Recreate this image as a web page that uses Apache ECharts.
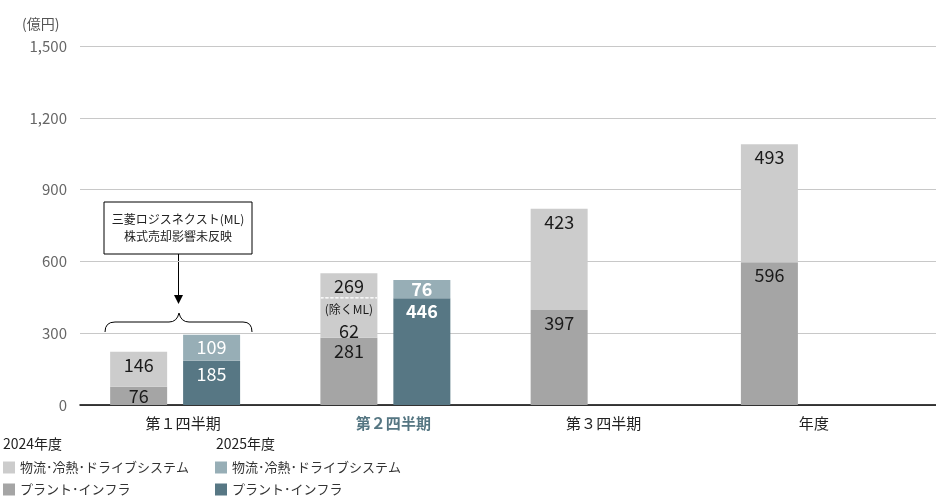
<!DOCTYPE html>
<html>
<head>
<meta charset="utf-8">
<script src="https://cdn.jsdelivr.net/npm/echarts@6/dist/echarts.min.js"></script>
<style>
  html, body { margin: 0; padding: 0; background: #fff; }
  #main { width: 936px; height: 500px; }
</style>
</head>
<body>
<div id="main"></div>
<script>
var categories = ['第１四半期', '第２四半期', '第３四半期', '年度'];
var plant2024 = [76, 281, 397, 596];
var logi2024 = [146, 269, 423, 493];
var plant2025 = [185, 446, null, null];
var logi2025 = [109, 76, null, null];
var yTicks = [0, 300, 600, 900, 1200, 1500];

var FONT = '"Noto Sans CJK JP", "Noto Sans", sans-serif';
var LOGI = '物流･冷熱･ドライブシステム';
var PLANT = 'プラント･インフラ';

var myChart = echarts.init(document.getElementById('main'));

// 小さい区画はラベルを中央、それ以外は上寄せ
function items(values, color, boldIdx) {
    return values.map(function (v, i) {
        if (v == null) return '-';
        return {
            value: v,
            label: {
                position: v < 90 ? 'inside' : 'insideTop',
                distance: 4,
                color: color,
                fontWeight: i === boldIdx ? 'bold' : 'normal'
            }
        };
    });
}

var logi2024Items = items(logi2024, '#1a1a1a', -1);
// 第2四半期の(除くML)注記
logi2024Items[1].label = {
    position: 'insideTop',
    distance: 2,
    formatter: '{v|' + logi2024[1] + '}\n{line| }\n{s|(除くML)}\n{v|62}',
    rich: {
        v: { fontSize: 18, lineHeight: 22, color: '#1a1a1a', fontFamily: FONT },
        line: { width: 56, height: 0, lineHeight: 1, borderColor: '#ffffff', borderWidth: 1, borderType: [3, 2] },
        s: { fontSize: 12, lineHeight: 22, color: '#1a1a1a', fontFamily: FONT }
    }
};

function seg(x1, y1, x2, y2) {
    return { type: 'line', shape: { x1: x1, y1: y1, x2: x2, y2: y2 }, style: { stroke: '#000', lineWidth: 1 } };
}
function curve(x1, y1, cx, cy, x2, y2) {
    return {
        type: 'bezierCurve',
        shape: { x1: x1, y1: y1, cpx1: cx, cpy1: cy, x2: x2, y2: y2 },
        style: { stroke: '#000', lineWidth: 1, fill: null }
    };
}

var titleStyle = { fontSize: 14, fontWeight: 'normal', color: '#222', fontFamily: FONT };

var option = {
    textStyle: { fontFamily: FONT },
    animation: false,
    title: [
        { text: '(億円)', left: 22, top: 17, padding: 0, textStyle: { fontSize: 14, fontWeight: 'normal', color: '#555', fontFamily: FONT } },
        { text: '2024年度', left: 3, top: 437, padding: 0, textStyle: titleStyle },
        { text: '2025年度', left: 216, top: 437, padding: 0, textStyle: titleStyle }
    ],
    legend: [
        {
            orient: 'vertical', left: 3, top: 461, padding: 0,
            itemWidth: 12, itemHeight: 12, itemGap: 9, icon: 'rect',
            data: ['2024|' + LOGI, '2024|' + PLANT],
            formatter: function (n) { return n.split('|')[1]; },
            textStyle: { fontSize: 13, color: '#333', fontFamily: FONT }
        },
        {
            orient: 'vertical', left: 215, top: 461, padding: 0,
            itemWidth: 12, itemHeight: 12, itemGap: 9, icon: 'rect',
            data: ['2025|' + LOGI, '2025|' + PLANT],
            formatter: function (n) { return n.split('|')[1]; },
            textStyle: { fontSize: 13, color: '#333', fontFamily: FONT }
        }
    ],
    // grid 0: 目盛線と軸線 / grid 1: 棒
    grid: [
        { left: 80, right: 0, top: 46, bottom: 95 },
        { left: 70, right: 25, top: 46, bottom: 95 }
    ],
    xAxis: [
        {
            gridIndex: 0, type: 'category', data: categories,
            axisTick: { show: false }, axisLabel: { show: false },
            axisLine: { lineStyle: { color: '#000', width: 1.5 } }
        },
        {
            gridIndex: 1,
            type: 'category',
            data: categories.map(function (c, i) {
                return i === 1 ? { value: c, textStyle: { color: '#557682', fontWeight: 'bold' } } : c;
            }),
            axisTick: { show: false },
            axisLine: { show: false },
            axisLabel: { fontSize: 15, color: '#222', margin: 11, padding: [0, 0, 0, 16] }
        }
    ],
    yAxis: [
        {
            gridIndex: 0,
            type: 'value',
            min: yTicks[0],
            max: yTicks[yTicks.length - 1],
            interval: 300,
            axisLine: { show: false },
            axisTick: { show: false },
            splitLine: { lineStyle: { color: '#c8c8c8' } },
            axisLabel: {
                fontSize: 15, color: '#666', margin: 13,
                formatter: function (v) { return v.toLocaleString('en-US'); }
            }
        },
        {
            gridIndex: 1,
            type: 'value',
            min: yTicks[0],
            max: yTicks[yTicks.length - 1],
            interval: 300,
            show: false
        }
    ],
    series: [
        {
            name: '2024|' + PLANT, type: 'bar', stack: 'y2024',
            xAxisIndex: 1, yAxisIndex: 1,
            barWidth: 57, barGap: '28%',
            itemStyle: { color: '#a5a5a5' },
            label: { show: true, fontSize: 18 },
            data: items(plant2024, '#1a1a1a', -1)
        },
        {
            name: '2024|' + LOGI, type: 'bar', stack: 'y2024',
            xAxisIndex: 1, yAxisIndex: 1,
            barWidth: 57, barGap: '28%',
            itemStyle: { color: '#cccccc' },
            label: { show: true, fontSize: 18 },
            data: logi2024Items
        },
        {
            name: '2025|' + PLANT, type: 'bar', stack: 'y2025',
            xAxisIndex: 1, yAxisIndex: 1,
            barWidth: 57, barGap: '28%',
            itemStyle: { color: '#577784' },
            label: { show: true, fontSize: 18 },
            data: items(plant2025, '#ffffff', 1)
        },
        {
            name: '2025|' + LOGI, type: 'bar', stack: 'y2025',
            xAxisIndex: 1, yAxisIndex: 1,
            barWidth: 57, barGap: '28%',
            itemStyle: { color: '#97aeb6' },
            label: { show: true, fontSize: 18 },
            data: items(logi2025, '#ffffff', 1)
        }
    ],
    graphic: [
        // 注記ボックス
        {
            type: 'rect', shape: { x: 104, y: 202, width: 148, height: 52 },
            style: { fill: '#fff', stroke: '#000', lineWidth: 1 }
        },
        {
            type: 'text', x: 178, y: 228,
            style: {
                text: '三菱ロジスネクスト(ML)\n株式売却影響未反映',
                align: 'center', verticalAlign: 'middle',
                fontSize: 12, lineHeight: 17, fill: '#222', fontFamily: FONT
            }
        },
        seg(178.5, 254, 178.5, 296),
        {
            type: 'polygon', shape: { points: [[174, 295], [183, 295], [178.5, 304]] },
            style: { fill: '#000' }
        },
        // 波括弧
        curve(105, 332, 105, 322, 115, 322),
        seg(115, 322, 169, 322),
        curve(169, 322, 177, 322, 179, 313),
        curve(179, 313, 181, 322, 189, 322),
        seg(189, 322, 243, 322),
        curve(243, 322, 252, 322, 252, 332)
    ]
};

myChart.setOption(option);
</script>
</body>
</html>
